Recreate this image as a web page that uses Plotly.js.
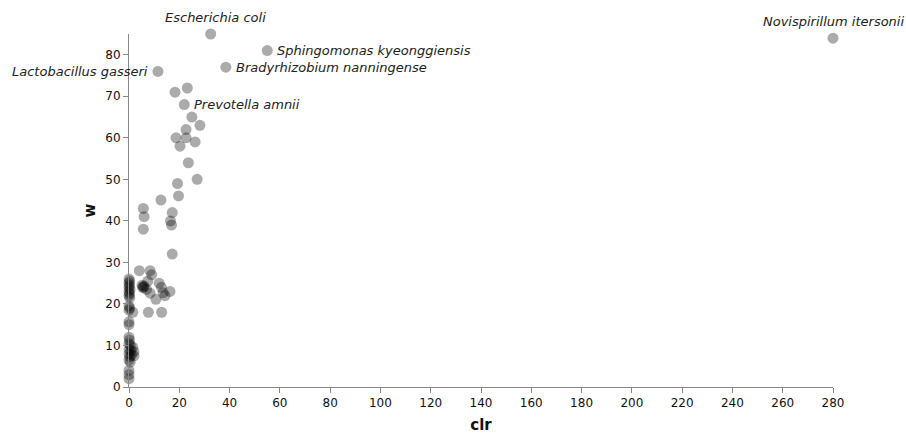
<!DOCTYPE html>
<html>
<head>
<meta charset="utf-8">
<script src="https://cdn.plot.ly/plotly-3.0.1.min.js"></script>
<style>html,body{margin:0;padding:0;background:#fff;}#chart{width:906px;height:434px;}</style>
</head>
<body>
<div id="chart"></div>
<script>
// clr values
const clr = [
  32.5, 55, 38.5, 11.5, 22, 280,
  18.3, 23.2, 25, 28.2, 22.7, 18.7, 22.7, 26.3, 20.3, 23.6, 27.1, 19.3, 19.7, 12.7, 5.7, 6, 5.7, 17.2, 16.5, 16.9, 17.2,
  4.1, 8.4, 9, 5.4, 5.2, 5.8, 6, 12, 12.9, 13.6, 16.3, 8.4, 10.7, 14.3, 7.7, 13, 7.5, 7,
  0, 0.3, 0, 0.2, 0, 0.4, 0, 0.2, 0, 0.3, 0, 0.3, 0, 1.5, 0, 0, 0, 0.2, 0, 0.5, 1.5, 0, 0.8, 2, 0, 1, 0.3, 2, 0, 0.5, 0, 0, 0
];
// w values
const w = [
  85, 81, 77, 76, 68, 84,
  71, 72, 65, 63, 62, 60, 60, 59, 58, 54, 50, 49, 46, 45, 43, 41, 38, 42, 40, 39, 32,
  28, 28, 27, 24, 24.5, 24, 24.3, 25, 24, 22.7, 23, 22.6, 21.1, 22, 18, 18, 25.5, 23.5,
  26, 25.5, 25, 24.5, 24, 23.5, 23, 22.5, 22, 21.5, 19.5, 19, 18.5, 18, 15.7, 15, 12, 11.3, 10.5, 10, 9.6, 9, 8.8, 8.5, 8, 7.7, 7.3, 7.5, 6.5, 6, 4, 3, 2
];
// labelled taxa
const labelNames = ["Escherichia coli", "Sphingomonas kyeonggiensis", "Bradyrhizobium nanningense", "Lactobacillus gasseri", "Prevotella amnii", "Novispirillum itersonii"];
const labelClr = [32.5, 55, 38.5, 11.5, 22, 280];
const labelW = [85, 81, 77, 76, 68, 84];
const labelSide = ["top", "right", "right", "left", "right", "top"];

const annotations = labelNames.map((t, i) => {
  const s = labelSide[i];
  const a = {x: labelClr[i], y: labelW[i], xref: 'x', yref: 'y', text: t, showarrow: false,
    font: {family: 'DejaVu Sans, Verdana, sans-serif', size: 13, color: '#222', style: 'italic'}};
  if (s === 'right') { a.xanchor = 'left'; a.yanchor = 'middle'; a.xshift = 8; }
  else if (s === 'left') { a.xanchor = 'right'; a.yanchor = 'middle'; a.xshift = -8; }
  else { a.xanchor = 'center'; a.yanchor = 'bottom'; a.yshift = 7; }
  return a;
});
annotations[0].xshift = 5;

const trace = {
  x: clr, y: w, mode: 'markers', type: 'scatter', cliponaxis: false,
  marker: {color: 'rgba(0,0,0,0.33)', size: 11, line: {width: 0}},
  hoverinfo: 'skip'
};

const axisFont = {family: 'DejaVu Sans, Verdana, sans-serif', size: 12, color: '#111'};
const titleFont = {family: 'DejaVu Sans, Verdana, sans-serif', size: 15, color: '#111'};
const layout = {
  width: 906, height: 434,
  margin: {l: 129, r: 73, t: 34, b: 47},
  paper_bgcolor: '#fff', plot_bgcolor: '#fff',
  showlegend: false,
  xaxis: {
    range: [0, 280], tickvals: [0,20,40,60,80,100,120,140,160,180,200,220,240,260,280],
    showgrid: false, zeroline: false, showline: true, linecolor: '#888', linewidth: 1,
    ticks: 'outside', ticklen: 5, tickcolor: '#888', tickfont: axisFont,
    title: {text: '<b>clr</b>', font: titleFont, standoff: 10}
  },
  yaxis: {
    range: [0, 85], tickvals: [0,10,20,30,40,50,60,70,80],
    showgrid: false, zeroline: false, showline: true, linecolor: '#888', linewidth: 1,
    ticks: 'outside', ticklen: 5, tickcolor: '#888', tickfont: axisFont,
    title: {text: '<b>w</b>', font: titleFont, standoff: 6}
  },
  annotations: annotations
};
Plotly.newPlot('chart', [trace], layout, {displayModeBar: false, staticPlot: true});
</script>
</body>
</html>
